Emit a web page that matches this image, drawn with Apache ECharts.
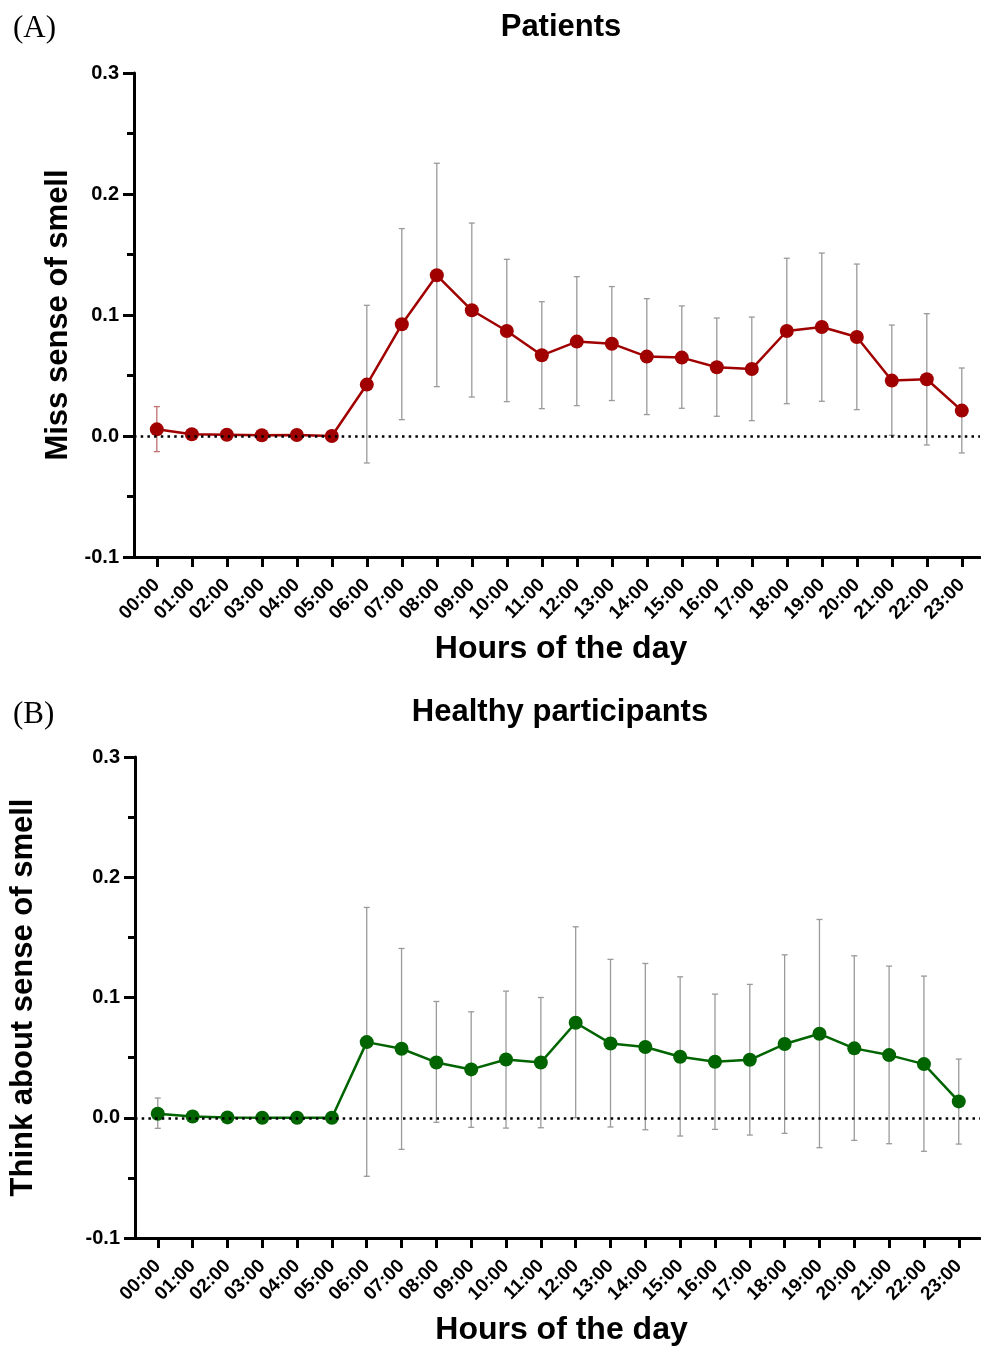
<!DOCTYPE html>
<html>
<head>
<meta charset="utf-8">
<script src="https://cdn.jsdelivr.net/npm/echarts@6/dist/echarts.min.js"></script>
<style>
html,body{margin:0;padding:0;background:#fff;}
#chart{width:981px;height:1348px;}
</style>
</head>
<body>
<div id="chart"></div>
<script>
const hours = ['00:00','01:00','02:00','03:00','04:00','05:00','06:00','07:00','08:00','09:00','10:00','11:00',
  '12:00','13:00','14:00','15:00','16:00','17:00','18:00','19:00','20:00','21:00','22:00','23:00'];

const patientsMean  = [0.0055,0.0014,0.0010,0.0006,0.0008,0.0000,0.0425,0.0923,0.1328,0.1039,0.0868,0.0667,
  0.0780,0.0763,0.0656,0.0648,0.0568,0.0554,0.0868,0.0901,0.0818,0.0458,0.0469,0.0210];
const patientsUpper = [0.0243,null,null,null,null,null,0.1080,0.1714,0.2254,0.1760,0.1460,0.1110,
  0.1317,0.1235,0.1135,0.1075,0.0975,0.0983,0.1469,0.1512,0.1421,0.0917,0.1011,0.0562];
const patientsLower = [-0.0129,null,null,null,null,null,-0.0223,0.0135,0.0408,0.0322,0.0284,0.0226,
  0.0251,0.0293,0.0177,0.0229,0.0163,0.0127,0.0267,0.0287,0.0218,0.0006,-0.0074,-0.0140];

const healthyMean  = [0.0033,0.0011,0.0003,0.0000,0.0000,0.0000,0.0629,0.0574,0.0460,0.0402,0.0485,0.0460,
  0.0790,0.0618,0.0588,0.0507,0.0466,0.0482,0.0613,0.0698,0.0577,0.0521,0.0446,0.0136];
const healthyUpper = [0.0164,null,null,null,null,null,0.1749,0.1408,0.0967,0.0881,0.1053,0.1000,
  0.1588,0.1317,0.1283,0.1172,0.1028,0.1109,0.1355,0.1649,0.1347,0.1261,0.1178,0.0488];
const healthyLower = [-0.0088,null,null,null,null,null,-0.0487,-0.0263,-0.0038,-0.0080,-0.0086,-0.0083,
  0.0000,-0.0077,-0.0100,-0.0152,-0.0097,-0.0144,-0.0130,-0.0249,-0.0188,-0.0216,-0.0279,-0.0219];

const yTicks = [-0.1,0,0.1,0.2,0.3];

const FONT = '"Liberation Sans", Arial, sans-serif';
const SERIF = '"Liberation Serif", "Times New Roman", serif';
const RED = '#a00000';
const GREEN = '#006400';

function pts(mean){ return mean.map((v,i)=>[i,v]); }
function bars(lo,hi){
  const out=[];
  lo.forEach((v,i)=>{ if(v!==null && hi[i]!==null) out.push([i,v,hi[i]]); });
  return out;
}
function errRender(firstColor){
  return function(params, api){
    const x = api.value(0);
    const a = api.coord([x, api.value(1)]);
    const b = api.coord([x, api.value(2)]);
    const c = 3;
    const col = (x===0 && firstColor) ? firstColor : '#9a9a9a';
    const st = {stroke: col, lineWidth: 1.3};
    return {type:'group', children:[
      {type:'line', shape:{x1:a[0],y1:a[1],x2:b[0],y2:b[1]}, style:st},
      {type:'line', shape:{x1:a[0]-c,y1:a[1],x2:a[0]+c,y2:a[1]}, style:st},
      {type:'line', shape:{x1:b[0]-c,y1:b[1],x2:b[0]+c,y2:b[1]}, style:st}
    ]};
  };
}

function xAxisCfg(gi, min, max){
  return {
    type:'value', gridIndex:gi, min:min, max:max,
    name:'Hours of the day', nameLocation:'middle', nameGap:76,
    nameTextStyle:{fontFamily:FONT, fontWeight:'bold', fontSize:32, color:'#000', padding:[0,0,0,8]},
    axisLine:{show:true, onZero:false, lineStyle:{color:'#000', width:3}},
    axisTick:{show:true, length:10, lineStyle:{color:'#000', width:3}, customValues: hours.map((h,i)=>i)},
    axisLabel:{show:true, rotate:45, margin:25, fontFamily:FONT, fontWeight:'bold', fontSize:19, color:'#000',
      customValues: hours.map((h,i)=>i), formatter:(v)=>hours[Math.round(v)]},
    splitLine:{show:false}
  };
}
function yAxisCfg(gi, name, gap){
  return {
    type:'value', gridIndex:gi, min:yTicks[0], max:yTicks[yTicks.length-1], interval:0.1,
    name:name, nameLocation:'middle', nameGap:gap,
    nameTextStyle:{fontFamily:FONT, fontWeight:'bold', fontSize:31, color:'#000'},
    axisLine:{show:true, onZero:false, lineStyle:{color:'#000', width:3}},
    axisTick:{show:true, length:11, lineStyle:{color:'#000', width:3}},
    minorTick:{show:true, splitNumber:2, length:7, lineStyle:{color:'#000', width:3}},
    axisLabel:{margin:15, fontFamily:FONT, fontWeight:'bold', fontSize:20, color:'#000',
      formatter:(v)=>v.toFixed(1)},
    splitLine:{show:false}
  };
}
function zeroLine(){
  return {silent:true, symbol:'none', label:{show:false},
    lineStyle:{type:[2.5,4.2], color:'#000', width:2.5}, data:[{yAxis:0}]};
}

const chart = echarts.init(document.getElementById('chart'), null, {renderer:'canvas'});
chart.setOption({
  backgroundColor:'#fff',
  animation:false,
  title:[
    {text:'(A)', left:8, top:8, textStyle:{fontFamily:SERIF, fontWeight:'normal', fontSize:31, color:'#000'}},
    {text:'Patients', left:556, top:7, textAlign:'center', textStyle:{fontFamily:FONT, fontWeight:'bold', fontSize:31, color:'#000'}},
    {text:'(B)', left:8, top:694, textStyle:{fontFamily:SERIF, fontWeight:'normal', fontSize:31, color:'#000'}},
    {text:'Healthy participants', left:555, top:692, textAlign:'center', textStyle:{fontFamily:FONT, fontWeight:'bold', fontSize:31, color:'#000'}}
  ],
  grid:[
    {left:134, top:73, width:846, height:484},
    {left:134, top:757, width:846, height:481}
  ],
  xAxis:[ xAxisCfg(0,-0.652,23.52), xAxisCfg(1,-0.654,23.61) ],
  yAxis:[ yAxisCfg(0,'Miss sense of smell',56), yAxisCfg(1,'Think about sense of smell',96) ],
  series:[
    {type:'custom', xAxisIndex:0, yAxisIndex:0, z:1, renderItem:errRender('#c07070'),
      data:bars(patientsLower, patientsUpper), encode:{x:0, y:[1,2]}},
    {type:'line', xAxisIndex:0, yAxisIndex:0, z:3, data:pts(patientsMean),
      symbol:'circle', symbolSize:14, lineStyle:{color:RED, width:2.5}, itemStyle:{color:RED},
      markLine: zeroLine()},
    {type:'custom', xAxisIndex:1, yAxisIndex:1, z:1, renderItem:errRender(null),
      data:bars(healthyLower, healthyUpper), encode:{x:0, y:[1,2]}},
    {type:'line', xAxisIndex:1, yAxisIndex:1, z:3, data:pts(healthyMean),
      symbol:'circle', symbolSize:14, lineStyle:{color:GREEN, width:2.5}, itemStyle:{color:GREEN},
      markLine: zeroLine()}
  ]
});
</script>
</body>
</html>
